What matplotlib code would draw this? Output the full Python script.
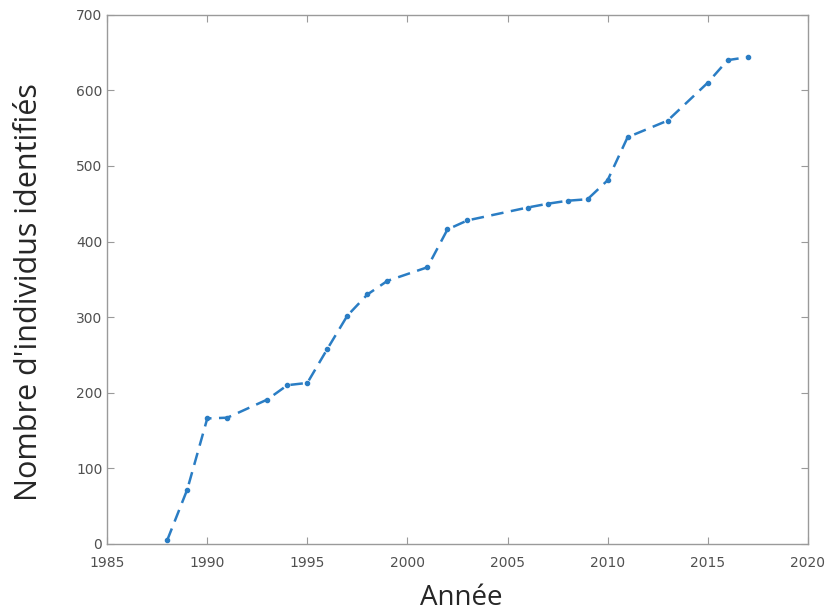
import matplotlib
matplotlib.use("Agg")
from matplotlib import pyplot as plt

annees = [1988, 1989, 1990, 1991, 1993, 1994, 1995, 1996, 1997, 1998, 1999,
          2001, 2002, 2003, 2006, 2007, 2008, 2009, 2010, 2011, 2013, 2015,
          2016, 2017]
individus = [5, 72, 166, 167, 191, 210, 213, 258, 302, 330, 348,
             366, 416, 428, 445, 450, 454, 456, 481, 538, 560, 610,
             640, 644]

x_ticks = [1985, 1990, 1995, 2000, 2005, 2010, 2015, 2020]
y_ticks = [0, 100, 200, 300, 400, 500, 600, 700]

fig = plt.figure(figsize=(8.31, 6.16), dpi=100)
ax = fig.add_axes([0.129, 0.117, 0.843, 0.859])

ax.plot(annees, individus, ls='--', dashes=(5, 3), marker='.', ms=6, lw=1.8,
        c='#2a7dc4')

ax.set_xlim(1985, 2020)
ax.set_ylim(0, 700)
ax.set_xticks(x_ticks)
ax.set_yticks(y_ticks)

for sp in ax.spines.values():
    sp.set_color('#9a9a9a')
    sp.set_linewidth(1.0)
ax.tick_params(direction='in', length=5, color='#9a9a9a', labelsize=10,
               labelcolor='#505050', top=True, right=True,
               labeltop=False, labelright=False)
ax.tick_params(axis='x', pad=9)

ax.set_xlabel("Année", fontsize=20, family='Open Sans', color='#262626')
ax.set_ylabel("Nombre d'individus identifiés", fontsize=22, family='Open Sans',
              color='#262626')
ax.xaxis.set_label_coords(0.506, -0.075)
ax.yaxis.set_label_coords(-0.09, 0.476)

fig.savefig("out.png", dpi=100)
